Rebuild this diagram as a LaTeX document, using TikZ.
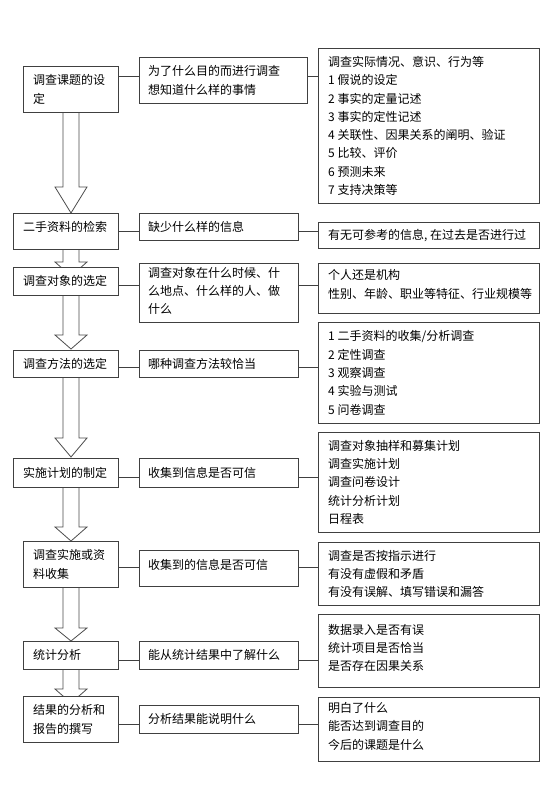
\documentclass[tikz,border=0pt]{standalone}
\usepackage{fontspec}
\newfontfamily\cjk{Noto Sans CJK SC}
\newcommand\flowbox[8]{%
  \node[box, minimum width=#4pt, minimum height=#5pt] (#1) at (#2,-#3) {};
  \node[txt] (#1t) at ([xshift=#6pt,yshift=#7pt]#1.west) {#8};}
\newcommand\flowarrow[3]{%
  \draw[bigarrow] (63,-#1) -- (63,-#2) -- (55,-#2) -- (71,-#3) -- (87,-#2) -- (79,-#2) -- (79,-#1);}
\begin{document}
\begin{tikzpicture}[x=1pt,y=1pt,
  box/.style={draw=black!75, fill=white, line width=0.8pt, inner sep=0pt, anchor=north west},
  txt/.style={font=\cjk\fontsize{12}{18.3}\selectfont, align=left, anchor=west, inner sep=0pt, text=black},
  conn/.style={draw=black!75, line width=0.8pt},
  bigarrow/.style={draw=black!70, fill=white, line width=0.8pt, line join=miter}]
\useasboundingbox[fill=white] (0,0) rectangle (550,-787);

% big flow arrows (drawn first, boxes cover their ends)
\flowarrow{112}{187}{213}
\flowarrow{249}{262}{276}
\flowarrow{295}{335}{349}
\flowarrow{377}{438}{457}
\flowarrow{487}{527}{541}
\flowarrow{587}{628}{641}
\flowarrow{669}{689}{703}

% left column
\flowbox{L1}{23}{66}{95}{46}{10}{0}{调查课题的设\\定}
\flowbox{L2}{13}{213}{105}{36}{10}{4}{二手资料的检索}
\flowbox{L3}{13}{267}{105}{28}{10}{0}{调查对象的选定}
\flowbox{L4}{13}{350}{105}{27}{10}{0}{调查方法的选定}
\flowbox{L5}{13}{458}{105}{29}{10}{0}{实施计划的制定}
\flowbox{L6}{23}{541}{95}{46}{10}{0}{调查实施或资\\料收集}
\flowbox{L7}{23}{641}{95}{28}{10}{0}{统计分析}
\flowbox{L8}{23}{696}{95}{46}{10}{0}{结果的分析和\\报告的撰写}

% middle column
\flowbox{M1}{139}{57}{168}{46}{9}{0}{为了什么目的而进行调查\\想知道什么样的事情}
\flowbox{M2}{139}{213}{159}{27}{9}{0}{缺少什么样的信息}
\flowbox{M3}{139}{263}{159}{59}{9}{2}{调查对象在什么时候、什\\么地点、什么样的人、做\\什么}
\flowbox{M4}{139}{350}{159}{27}{9}{0}{哪种调查方法较恰当}
\flowbox{M5}{139}{458}{159}{29}{9}{0}{收集到信息是否可信}
\flowbox{M6}{139}{550}{159}{36}{9}{4}{收集到的信息是否可信}
\flowbox{M7}{139}{641}{159}{28}{9}{0}{能从统计结果中了解什么}
\flowbox{M8}{139}{705}{159}{28}{9}{0}{分析结果能说明什么}

% right column
\flowbox{R1}{318}{48}{221}{155}{10}{0}{调查实际情况、意识、行为等\\1 假说的设定\\2 事实的定量记述\\3 事实的定性记述\\4 关联性、因果关系的阐明、验证\\5 比较、评价\\6 预测未来\\7 支持决策等}
\flowbox{R2}{318}{222}{221}{26}{10}{0}{有无可参考的信息, 在过去是否进行过}
\flowbox{R3}{318}{263}{221}{50}{10}{4}{个人还是机构\\性别、年龄、职业等特征、行业规模等}
\flowbox{R4}{318}{322}{221}{101}{10}{0}{1 二手资料的收集/分析调查\\2 定性调查\\3 观察调查\\4 实验与测试\\5 问卷调查}
\flowbox{R5}{318}{432}{221}{100}{10}{0}{调查对象抽样和募集计划\\调查实施计划\\调查问卷设计\\统计分析计划\\日程表}
\flowbox{R6}{318}{542}{221}{63}{10}{0}{调查是否按指示进行\\有没有虚假和矛盾\\有没有误解、填写错误和漏答}
\flowbox{R7}{318}{614}{221}{73}{10}{3}{数据录入是否有误\\统计项目是否恰当\\是否存在因果关系}
\flowbox{R8}{318}{697}{221}{64}{10}{3}{明白了什么\\能否达到调查目的\\今后的课题是什么}

% connector rows
\coordinate (r1) at (0,-76);
\coordinate (r2) at (0,-231);
\coordinate (r3) at (0,-285);
\coordinate (r4) at (0,-367);
\coordinate (r5) at (0,-477);
\coordinate (r6) at (0,-567);
\coordinate (r7) at (0,-660);
\coordinate (r8) at (0,-724);
\foreach \i in {1,...,8}{
  \draw[conn] (L\i.east |- r\i) -- (M\i.west |- r\i);
  \draw[conn] (M\i.east |- r\i) -- (R\i.west |- r\i);
}
\end{tikzpicture}
\end{document}
